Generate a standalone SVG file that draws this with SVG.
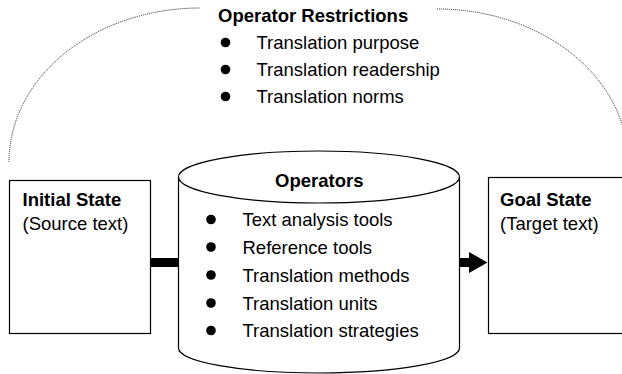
<svg xmlns="http://www.w3.org/2000/svg" width="622" height="374" viewBox="0 0 622 374">
<style>
text{font-family:"Liberation Sans",Arial,sans-serif;font-size:18.5px;fill:#000}
.b{font-weight:bold}
.box{fill:#fff;stroke:#000;stroke-width:1.2}
.dot{fill:none;stroke:#222;stroke-width:1;stroke-dasharray:1 1}
.blt{fill:#000}
</style>
<rect width="622" height="374" fill="#fff"/>
<g id="restrictions">
<path class="dot" d="M9,162 A191,154 0 0 1 200,8"/>
<path class="dot" d="M437,9 A191,153 0 0 1 628,162"/>
<text class="b" x="218" y="22">Operator Restrictions</text>
<circle class="blt" cx="225.5" cy="42.5" r="4.8"/>
<circle class="blt" cx="225.5" cy="69.5" r="4.8"/>
<circle class="blt" cx="225.5" cy="96.5" r="4.8"/>
<text x="256.5" y="48.5">Translation purpose</text>
<text x="256.5" y="75.5">Translation readership</text>
<text x="256.5" y="102.5">Translation norms</text>
</g>
<g id="initial">
<rect class="box" x="9.5" y="180.5" width="141" height="153"/>
<text class="b" x="22.5" y="205.5">Initial State</text>
<text x="22.5" y="230">(Source text)</text>
</g>
<g id="operators">
<path class="box" d="M178.5,177 L178.5,348 A140.5,25 0 0 0 459.5,348 L459.5,177"/>
<ellipse class="box" cx="319" cy="177" rx="140.5" ry="26"/>
<text class="b" x="275" y="186.5">Operators</text>
<circle class="blt" cx="211" cy="219.5" r="4.8"/>
<circle class="blt" cx="211" cy="247" r="4.8"/>
<circle class="blt" cx="211" cy="275" r="4.8"/>
<circle class="blt" cx="211" cy="303" r="4.8"/>
<circle class="blt" cx="211" cy="330.5" r="4.8"/>
<text x="242.5" y="226">Text analysis tools</text>
<text x="242.5" y="253.5">Reference tools</text>
<text x="242.5" y="281.5">Translation methods</text>
<text x="242.5" y="309.5">Translation units</text>
<text x="242.5" y="337">Translation strategies</text>
</g>
<g id="goal">
<rect class="box" x="488.5" y="177.5" width="150" height="156"/>
<text class="b" x="500" y="205.5">Goal State</text>
<text x="500" y="230">(Target text)</text>
</g>
<g id="connectors">
<rect x="151" y="258" width="27" height="9" fill="#000"/>
<path d="M460,258 L469,258 L469,252 L487.5,262.5 L469,273 L469,267 L460,267 Z" fill="#000"/>
</g>
</svg>
